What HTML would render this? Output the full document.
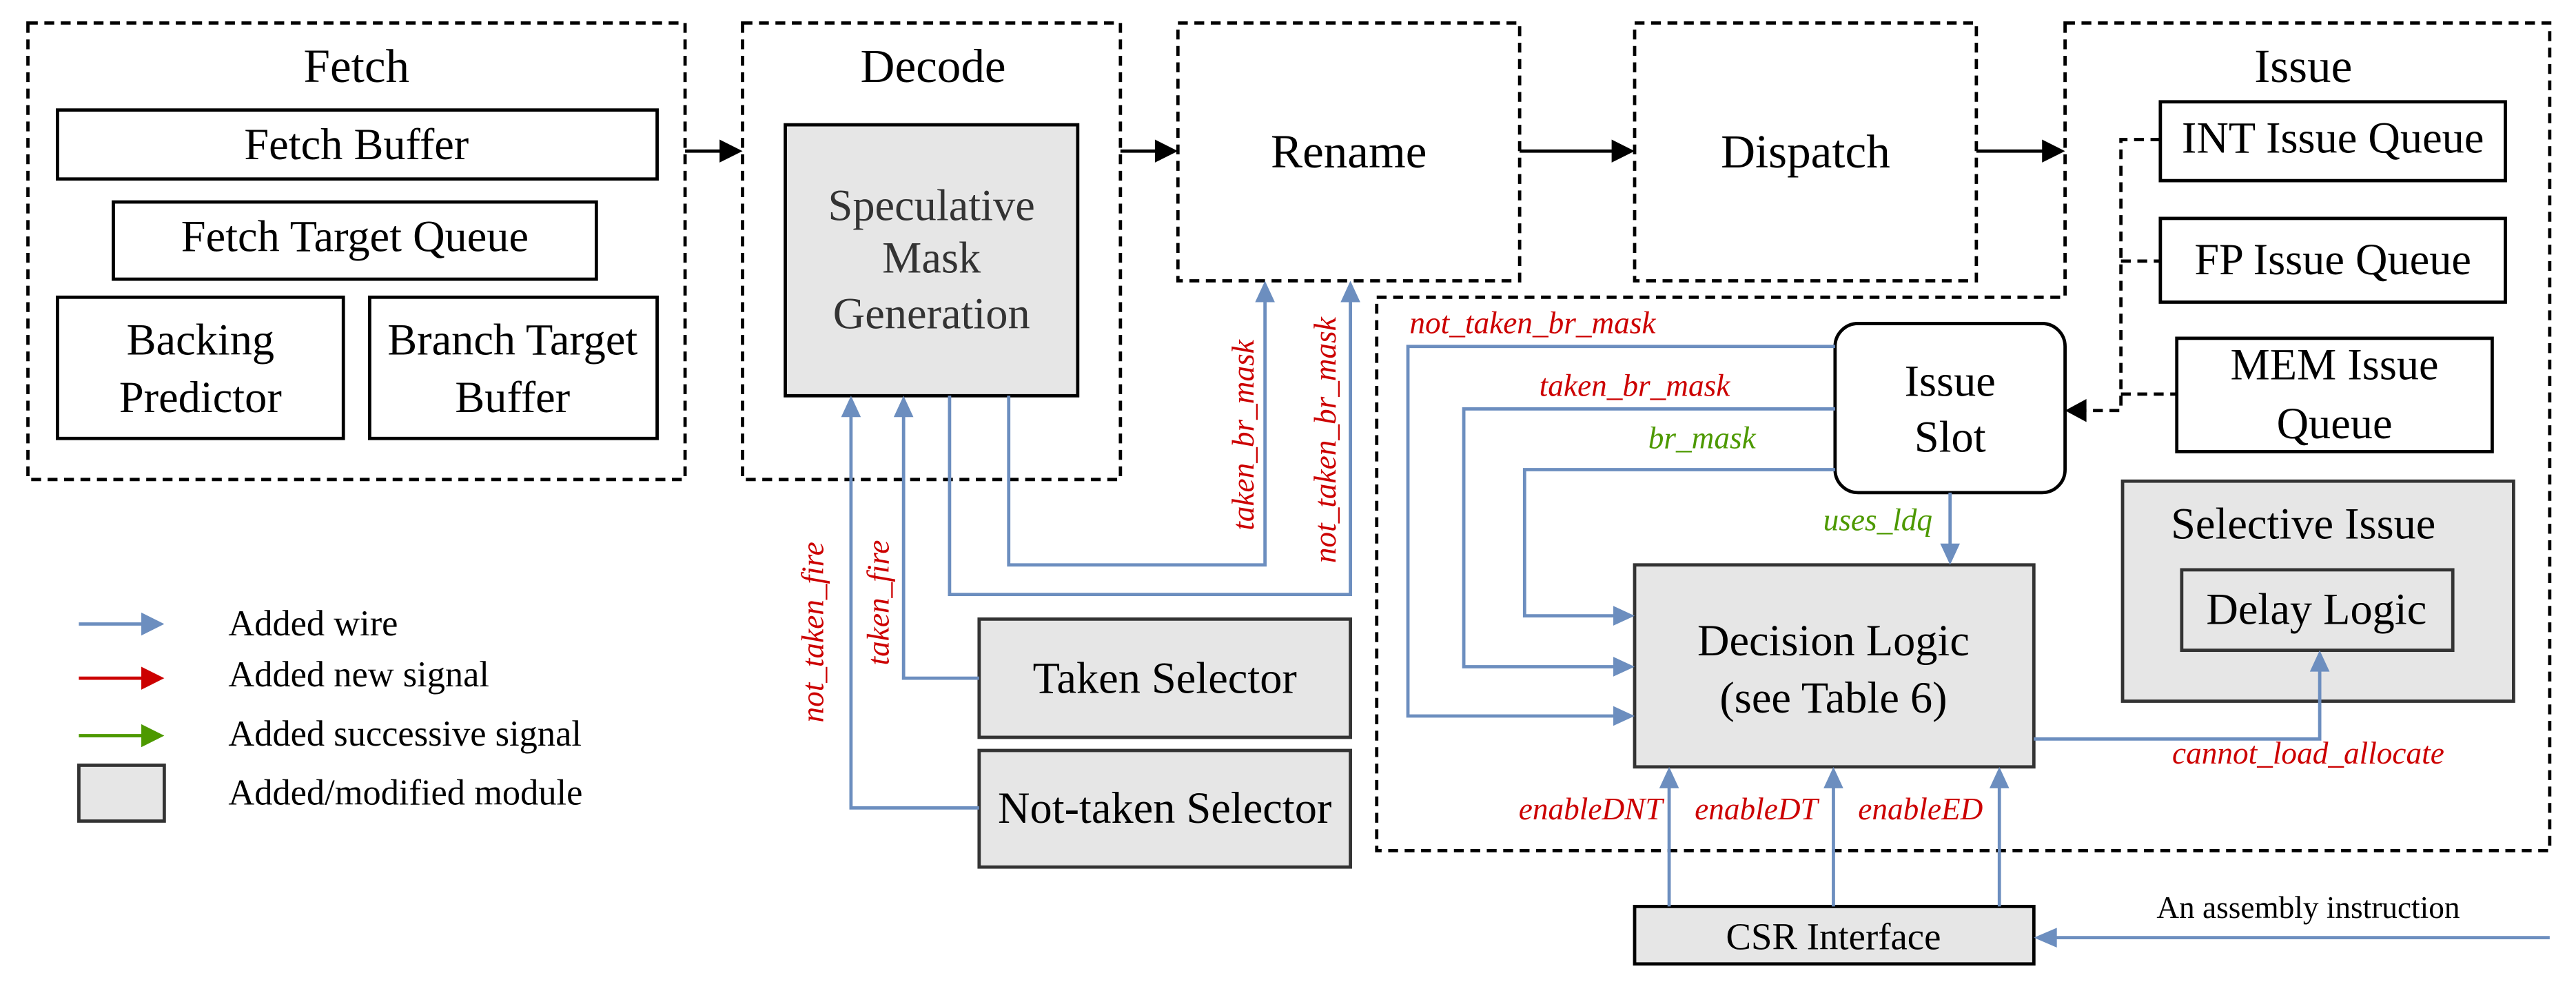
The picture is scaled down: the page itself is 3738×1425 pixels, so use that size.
<!DOCTYPE html>
<html><head><meta charset="utf-8"><style>
html,body{margin:0;padding:0;background:#fff;}
svg{display:block;}
text{font-family:"Liberation Serif","Times New Roman","DejaVu Serif",serif;}
.t{font-size:27px;fill:#000;}
.h{font-size:29px;fill:#000;}
.g{font-size:27px;fill:#333;}
.r{font-size:19px;fill:#cc0000;font-style:italic;}
.gr{font-size:19px;fill:#4d9900;font-style:italic;}
.l{font-size:22px;fill:#000;}
</style></head><body>
<svg width="3738" height="1425" viewBox="0 0 1568 598" preserveAspectRatio="none" xmlns="http://www.w3.org/2000/svg" font-family="Liberation Serif, serif">
<g fill="none" stroke="#000" stroke-width="2" stroke-dasharray="6,4">
<rect x="17" y="14" width="400" height="278"/>
<rect x="452" y="14" width="230" height="278"/>
<rect x="717" y="14" width="208" height="157"/>
<rect x="995" y="14" width="208" height="157"/>
<path d="M1257 14 H1552 V518 H838 V181 H1257 Z"/>
<path d="M1315 85 H1291 V250 H1268 M1291 159 H1315 M1291 240 H1325"/>
</g>
<polygon points="1257,250 1270,243 1270,257" fill="#000"/>
<g stroke="#000" stroke-width="2"><line x1="417" y1="92" x2="440" y2="92"/><line x1="682" y1="92" x2="705" y2="92"/><line x1="925" y1="92" x2="983" y2="92"/><line x1="1203" y1="92" x2="1245" y2="92"/></g>
<g fill="#000"><polygon points="452,92 438,85 438,99"/><polygon points="717,92 703,85 703,99"/><polygon points="995,92 981,85 981,99"/><polygon points="1257,92 1243,85 1243,99"/></g>
<g stroke="#000" stroke-width="2" fill="#fff">
<rect x="35" y="67" width="365" height="42"/>
<rect x="69" y="123" width="294" height="47"/>
<rect x="35" y="181" width="174" height="86"/>
<rect x="225" y="181" width="175" height="86"/>
<rect x="1315" y="62" width="210" height="48"/>
<rect x="1315" y="133" width="210" height="51"/>
<rect x="1325" y="206" width="192" height="69"/>
<rect x="1117" y="197" width="140" height="103" rx="14"/>
</g>
<g stroke="#333" stroke-width="2" fill="#e6e6e6">
<rect x="478" y="76" width="178" height="165" stroke="#000"/>
<rect x="596" y="377" width="226" height="72"/>
<rect x="596" y="457" width="226" height="71"/>
<rect x="1292" y="293" width="238" height="134"/>
<rect x="1328" y="347" width="165" height="49"/>
<rect x="995" y="344" width="243" height="123"/>
<rect x="995" y="552" width="243" height="35" stroke="#000"/>
<rect x="48" y="466" width="52" height="34"/>
</g>
<g fill="none" stroke="#6c8ebf" stroke-width="2">
<path d="M614 241 V344 H770 V182"/>
<path d="M578 241 V362 H822 V182"/>
<path d="M596 492 H518 V252"/>
<path d="M596 413 H550 V252"/>
<path d="M1117 211 H857 V436 H984"/>
<path d="M1117 249 H891 V406 H984"/>
<path d="M1117 286 H928 V375 H984"/>
<path d="M1187 300 V333"/>
<path d="M1238 450 H1412 V407"/>
<path d="M1016 552 V478 M1116 552 V478 M1217 552 V478"/>
<path d="M1552 571 H1250"/>
<path d="M48 380 H88"/>
</g>
<g fill="#6c8ebf">
<polygon points="770,171 764,184 776,184"/><polygon points="822,171 816,184 828,184"/>
<polygon points="518,241 512,254 524,254"/><polygon points="550,241 544,254 556,254"/>
<polygon points="995,436 982,430 982,442"/><polygon points="995,406 982,400 982,412"/><polygon points="995,375 982,369 982,381"/>
<polygon points="1187,344 1181,331 1193,331"/>
<polygon points="1412,396 1406,409 1418,409"/>
<polygon points="1016,467 1010,480 1022,480"/><polygon points="1116,467 1110,480 1122,480"/><polygon points="1217,467 1211,480 1223,480"/>
<polygon points="1238,571 1252,565 1252,577"/>
<polygon points="100,380 86,373 86,387"/>
</g>
<line x1="48" y1="413" x2="88" y2="413" stroke="#cc0000" stroke-width="2"/><polygon points="100,413 86,406 86,420" fill="#cc0000"/>
<line x1="48" y1="448" x2="88" y2="448" stroke="#4d9900" stroke-width="2"/><polygon points="100,448 86,441 86,455" fill="#4d9900"/>
<g class="h" text-anchor="middle">
<text x="217" y="50">Fetch</text>
<text x="568" y="50">Decode</text>
<text x="821" y="102">Rename</text>
<text x="1099" y="102">Dispatch</text>
<text x="1402" y="50">Issue</text>
</g>
<g class="t" text-anchor="middle">
<text x="217" y="97">Fetch Buffer</text>
<text x="216" y="153">Fetch Target Queue</text>
<text x="122" y="216">Backing</text><text x="122" y="251">Predictor</text>
<text x="312" y="216">Branch Target</text><text x="312" y="251">Buffer</text>
<text x="1420" y="93">INT Issue Queue</text>
<text x="1420" y="167">FP Issue Queue</text>
<text x="1421" y="231">MEM Issue</text><text x="1421" y="267">Queue</text>
<text x="1187" y="241">Issue</text><text x="1187" y="275">Slot</text>
<text x="1402" y="328">Selective Issue</text>
<text x="1410" y="380">Delay Logic</text>
<text x="1116" y="399">Decision Logic</text>
<text x="1116" y="434">(see Table 6)</text>
<text x="709" y="422">Taken Selector</text>
<text x="709" y="501">Not-taken Selector</text>
</g>
<g class="g" text-anchor="middle"><text x="567" y="134">Speculative</text><text x="567" y="166">Mask</text><text x="567" y="200">Generation</text></g>
<text x="1116" y="578" text-anchor="middle" style="font-size:23px">CSR Interface</text>
<text x="1405" y="559" text-anchor="middle" style="font-size:19px">An assembly instruction</text>
<g class="r">
<text x="858" y="203">not_taken_br_mask</text>
<text x="995" y="241" text-anchor="middle">taken_br_mask</text>
<text x="1405" y="465" text-anchor="middle">cannot_load_allocate</text>
<text x="1012" y="499" text-anchor="end">enableDNT</text>
<text x="1069" y="499" text-anchor="middle">enableDT</text>
<text x="1169" y="499" text-anchor="middle">enableED</text>
<text transform="translate(763,265) rotate(-90)" text-anchor="middle">taken_br_mask</text>
<text transform="translate(813,268) rotate(-90)" text-anchor="middle">not_taken_br_mask</text>
<text transform="translate(501,385) rotate(-90)" text-anchor="middle">not_taken_fire</text>
<text transform="translate(541,367) rotate(-90)" text-anchor="middle">taken_fire</text>
</g>
<g class="gr"><text x="1036" y="273" text-anchor="middle">br_mask</text><text x="1143" y="323" text-anchor="middle">uses_ldq</text></g>
<g class="l"><text x="139" y="387">Added wire</text><text x="139" y="418">Added new signal</text><text x="139" y="454">Added successive signal</text><text x="139" y="490">Added/modified module</text></g>
</svg>
</body></html>
